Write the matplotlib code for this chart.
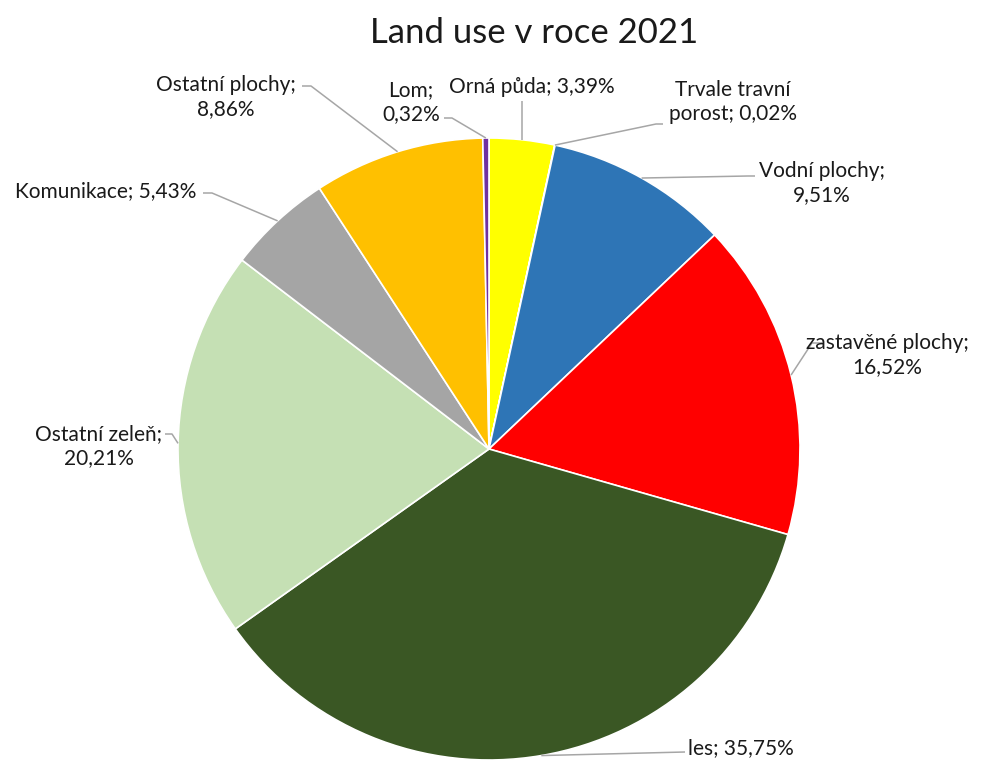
import numpy as np
import matplotlib.pyplot as plt

plt.rcParams['font.family'] = ['Lato', 'DejaVu Sans']

# land use shares in 2021 (%), clockwise from the top
categories = ["Orná půda", "Trvale travní porost", "Vodní plochy", "zastavěné plochy",
              "les", "Ostatní zeleň", "Komunikace", "Ostatní plochy", "Lom"]
shares = [3.39, 0.02, 9.51, 16.52, 35.75, 20.21, 5.43, 8.86, 0.32]
colors = ["#FFFF00", "#70AD47", "#2E75B6", "#FF0000", "#3A5724",
          "#C5E0B4", "#A5A5A5", "#FFC000", "#7030A0"]
label_texts = ["Orná půda; 3,39%", "Trvale travní\nporost; 0,02%", "Vodní plochy;\n9,51%",
               "zastavěné plochy;\n16,52%", "les; 35,75%", "Ostatní zeleň;\n20,21%",
               "Komunikace; 5,43%", "Ostatní plochy;\n8,86%", "Lom;\n0,32%"]

W, H = 1004, 760
fig = plt.figure(figsize=(W / 100, H / 100), dpi=100)
ax = fig.add_axes([0, 0, 1, 1])

cx, cy, r = 489, H - 449, 311
wedges, _ = ax.pie(shares, colors=colors, startangle=90, counterclock=False,
                   center=(cx, cy), radius=r,
                   wedgeprops=dict(edgecolor="white", linewidth=1.2))

ax.set_xlim(0, W)
ax.set_ylim(0, H)
ax.set_aspect("equal")
ax.axis("off")

# label placement in pixels (from top): text position, alignment, leader elbow, leader end
layout = [
    ((532, 87), "center", None, None),
    ((733, 102), "center", (656, 124), (663, 124)),
    ((822, 183), "center", (748, 176), (755, 176)),
    ((887, 355), "center", (812, 343), (822, 343)),
    ((688, 748), "left", None, (685, 752)),
    ((99, 446), "center", (172, 434), (165, 434)),
    ((106, 191), "center", (212, 193), (203, 193)),
    ((226, 97), "center", (311, 86), (302, 86)),
    ((411, 102), "center", (452, 118), (444, 118)),
]

for w, txt, (pos, ha, elbow, end) in zip(wedges, label_texts, layout):
    mid = np.deg2rad((w.theta1 + w.theta2) / 2)
    px, py = cx + r * np.cos(mid), cy + r * np.sin(mid)
    if elbow is None and end is None:
        xs, ys = [px, px], [py, H - 101]
    elif elbow is None:
        xs, ys = [px, end[0]], [py, H - end[1]]
    else:
        xs, ys = [px, elbow[0], end[0]], [py, H - elbow[1], H - end[1]]
    ax.plot(xs, ys, color="#A6A6A6", lw=1.1, zorder=1, solid_capstyle="butt")
    ax.text(pos[0], H - pos[1], txt, ha=ha, va="center", fontsize=15,
            color="#1A1A1A", linespacing=1.3, multialignment="center")

ax.text(534, H - 33, "Land use v roce 2021", ha="center", va="center",
        fontsize=25, color="#1A1A1A")

fig.savefig("out.png", dpi=100)
